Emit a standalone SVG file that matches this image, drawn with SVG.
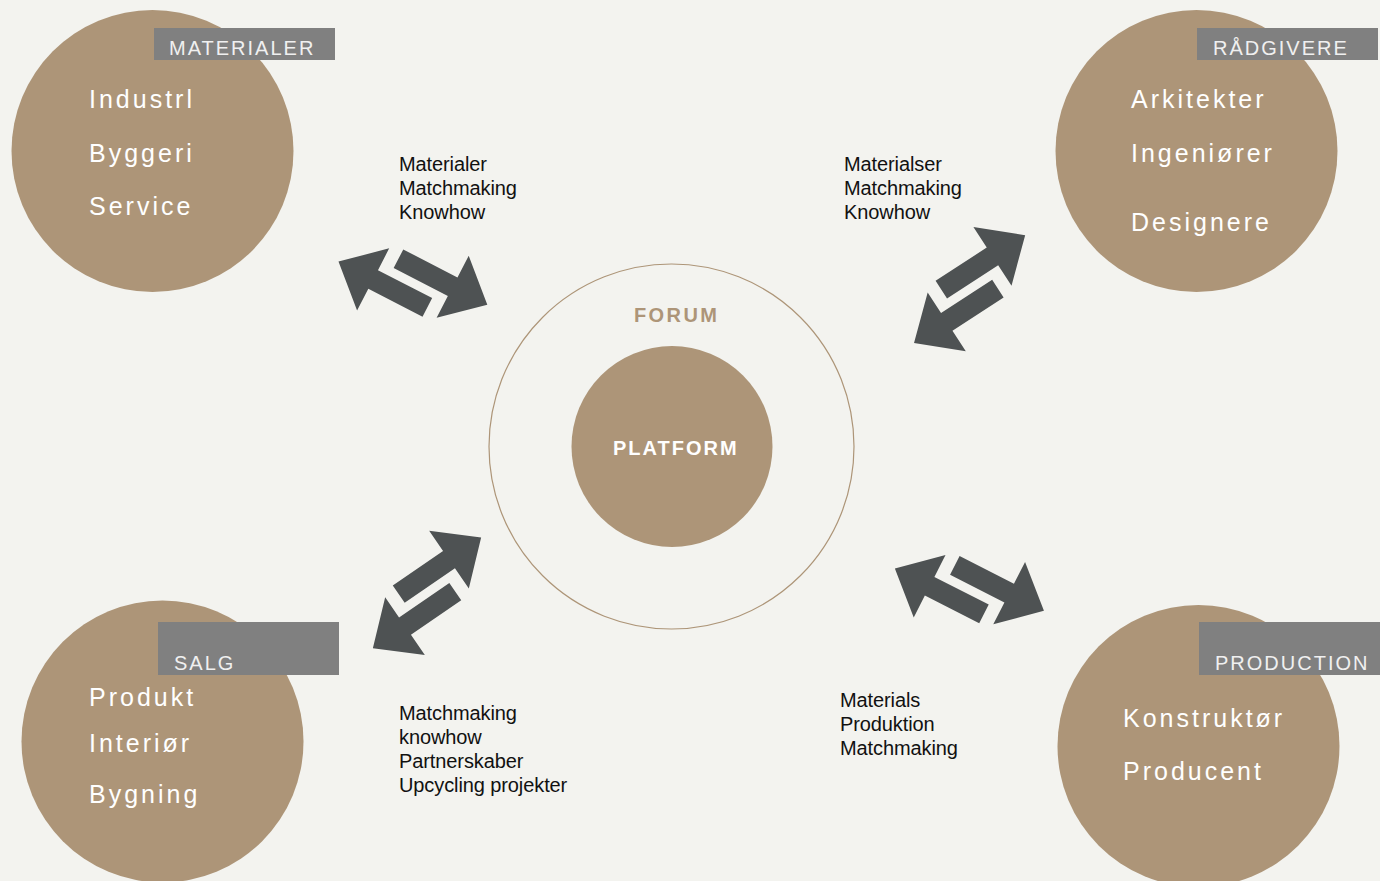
<svg xmlns="http://www.w3.org/2000/svg" xmlns:xlink="http://www.w3.org/1999/xlink" width="1380" height="881" viewBox="0 0 1380 881">
<style>
.bg{fill:#f3f3ef}
.disc{fill:#ad9578}
.tag{fill:#808080}
.tagt{font-family:"Liberation Sans",Arial,sans-serif;font-size:20px;letter-spacing:2px;fill:#f0f0f0}
.item{font-family:"Liberation Sans",Arial,sans-serif;font-size:25px;letter-spacing:3px;fill:#ffffff}
.lbl{font-family:"Liberation Sans",Arial,sans-serif;font-size:20px;letter-spacing:-0.1px;fill:#111111}
.arr{fill:#4e5253}
</style>
<defs>
<g id="dbl">
<polygon class="arr" points="-24,-25.5 37,-25.5 37,-50 76,-15 37,20 37,-4.5 -24,-4.5"/>
<polygon class="arr" points="24,4.5 -37,4.5 -37,-20 -76,15 -37,50 -37,25.5 24,25.5"/>
</g>
</defs>
<rect class="bg" x="0" y="0" width="1380" height="881"/>

<g id="connectors">
<use xlink:href="#dbl" href="#dbl" transform="translate(412.9,283.1) rotate(27.3)"/>
<use xlink:href="#dbl" href="#dbl" transform="translate(969.6,289.1) rotate(-33)"/>
<use xlink:href="#dbl" href="#dbl" transform="translate(427,592.9) rotate(-34.5)"/>
<use xlink:href="#dbl" href="#dbl" transform="translate(969.4,589.7) rotate(27)"/>
</g>

<g id="label-tl">
<text class="lbl" x="399" y="170.5">Materialer</text>
<text class="lbl" x="399" y="194.5">Matchmaking</text>
<text class="lbl" x="399" y="218.5">Knowhow</text>
</g>
<g id="label-tr">
<text class="lbl" x="844" y="170.5">Materialser</text>
<text class="lbl" x="844" y="194.5">Matchmaking</text>
<text class="lbl" x="844" y="218.5">Knowhow</text>
</g>
<g id="label-bl">
<text class="lbl" x="399" y="720">Matchmaking</text>
<text class="lbl" x="399" y="744">knowhow</text>
<text class="lbl" x="399" y="768">Partnerskaber</text>
<text class="lbl" x="399" y="792">Upcycling projekter</text>
</g>
<g id="label-br">
<text class="lbl" x="840" y="707">Materials</text>
<text class="lbl" x="840" y="731">Produktion</text>
<text class="lbl" x="840" y="755">Matchmaking</text>
</g>

<g id="forum">
<circle cx="671.5" cy="446.5" r="182.5" fill="none" stroke="#ad9578" stroke-width="1.2"/>
<text x="634" y="322" font-family="'Liberation Sans',Arial,sans-serif" font-size="20" font-weight="bold" letter-spacing="2.4" fill="#ad9578">FORUM</text>
</g>
<g id="platform">
<circle class="disc" cx="672" cy="446.5" r="100.5"/>
<text x="613" y="455" font-family="'Liberation Sans',Arial,sans-serif" font-size="20" font-weight="bold" letter-spacing="2" fill="#ffffff">PLATFORM</text>
</g>

<g id="materialer">
<circle class="disc" cx="152.5" cy="151" r="141"/>
<rect class="tag" x="154" y="28" width="181" height="32"/>
<text class="tagt" x="169" y="55" letter-spacing="1.6">MATERIALER</text>
<text class="item" x="89" y="108">Industrl</text>
<text class="item" x="89" y="162">Byggeri</text>
<text class="item" x="89" y="215">Service</text>
</g>

<g id="radgivere">
<circle class="disc" cx="1196.5" cy="151" r="141"/>
<rect class="tag" x="1197" y="28" width="181" height="32"/>
<text class="tagt" x="1213" y="55">RÅDGIVERE</text>
<text class="item" x="1131" y="108">Arkitekter</text>
<text class="item" x="1131" y="162">Ingeniører</text>
<text class="item" x="1131" y="231">Designere</text>
</g>

<g id="salg">
<circle class="disc" cx="162.5" cy="741.5" r="141"/>
<rect class="tag" x="158" y="622" width="181" height="53"/>
<text class="tagt" x="174" y="670">SALG</text>
<text class="item" x="89" y="706">Produkt</text>
<text class="item" x="89" y="752">Interiør</text>
<text class="item" x="89" y="803">Bygning</text>
</g>

<g id="production">
<circle class="disc" cx="1198.5" cy="746" r="141"/>
<rect class="tag" x="1199" y="622" width="181" height="53"/>
<text class="tagt" x="1215" y="670" letter-spacing="2.5">PRODUCTION</text>
<text class="item" x="1123" y="727">Konstruktør</text>
<text class="item" x="1123" y="780">Producent</text>
</g>
</svg>
